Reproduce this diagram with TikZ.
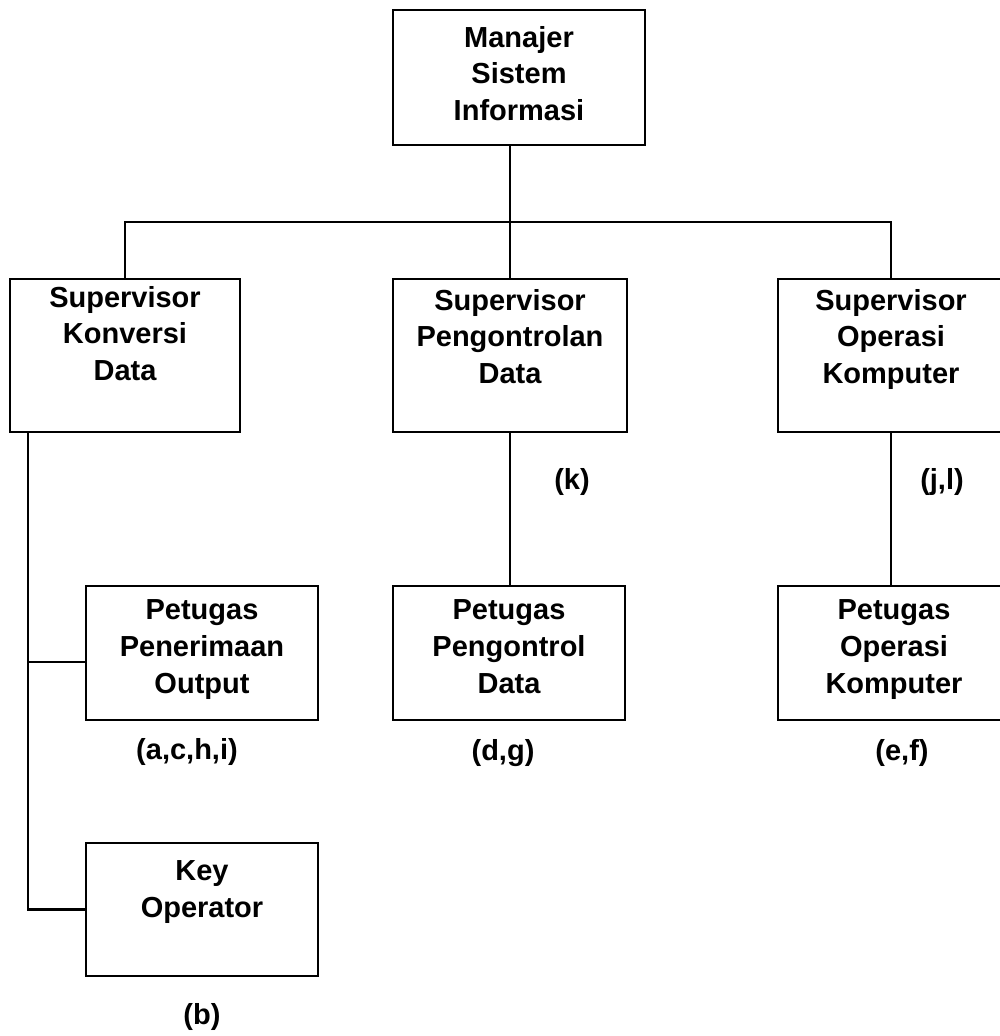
\documentclass[tikz,border=0pt]{standalone}
\usepackage{fontspec}
\setmainfont{Liberation Sans}
\begin{document}
\begin{tikzpicture}[x=1pt,y=-1pt,
  box/.style={draw, line width=2.4pt, inner sep=0pt},
  txt/.style={align=center, inner sep=0pt, font=\fontsize{29}{36.7}\selectfont\bfseries},
  conn/.style={line width=2.4pt}]
\clip (0,0) rectangle (1000,1036);
% top
\node[box, minimum width=252pt, minimum height=135pt] (msi) at (519,77.5) {};
\node[txt, anchor=north] (msit) at ([yshift=-17pt]msi.north) {Manajer\\Sistem\\Informasi};
% supervisors
\node[box, minimum width=230pt, minimum height=153pt] (sk) at (125,355.5) {};
\node[txt, anchor=north] (skt) at ([yshift=-8pt]sk.north) {Supervisor\\Konversi\\Data};
\node[box, minimum width=234pt, minimum height=153pt] (sp) at (510,355.5) {};
\node[txt, anchor=north] (spt) at ([yshift=-11pt]sp.north) {Supervisor\\Pengontrolan\\Data};
\node[box, minimum width=226pt, minimum height=153pt] (so) at (891,355.5) {};
\node[txt, anchor=north] (sot) at ([yshift=-11pt]so.north) {Supervisor\\Operasi\\Komputer};
% petugas
\node[box, minimum width=232pt, minimum height=134pt] (pn) at (202,653) {};
\node[txt, anchor=north] (pnt) at ([yshift=-15pt]pn.north) {Petugas\\Penerimaan\\Output};
\node[box, minimum width=232pt, minimum height=134pt] (pc) at (509,653) {};
\node[txt, anchor=north] (pct) at ([yshift=-15pt]pc.north) {Petugas\\Pengontrol\\Data};
\node[box, minimum width=232pt, minimum height=134pt] (po) at (894,653) {};
\node[txt, anchor=north] (pot) at ([yshift=-15pt]po.north) {Petugas\\Operasi\\Komputer};
\node[box, minimum width=232pt, minimum height=133pt] (key) at (202,909.5) {};
\node[txt, anchor=north] (keyt) at ([yshift=-19pt]key.north) {Key\\Operator};
% connectors
\coordinate (bus) at (0,222);
\draw[conn] (sk.north) -- (sk.north |- bus) -- (so.north |- bus) -- (so.north);
\draw[conn] (msi.south -| sp.north) -- (sp.north);
\coordinate (trunk) at ([xshift=19pt]sk.south west);
\draw[conn] (trunk) |- (key.west);
\draw[conn] ([yshift=-9pt]pn.west) -- ([yshift=-9pt]pn.west -| trunk);
\draw[conn] (sp.south) -- (sp.south |- pc.north);
\draw[conn] (so.south) -- (so.south |- po.north);
% labels
\node[txt] (lk) at (572,482) {(k)};
\node[txt] (ljl) at (942,482) {(j,l)};
\node[txt] (lachi) at (187,752) {(a,c,h,i)};
\node[txt] (ldg) at (503,753) {(d,g)};
\node[txt] (lef) at (902,753) {(e,f)};
\node[txt] (lb) at (202,1017) {(b)};
\end{tikzpicture}
\end{document}
